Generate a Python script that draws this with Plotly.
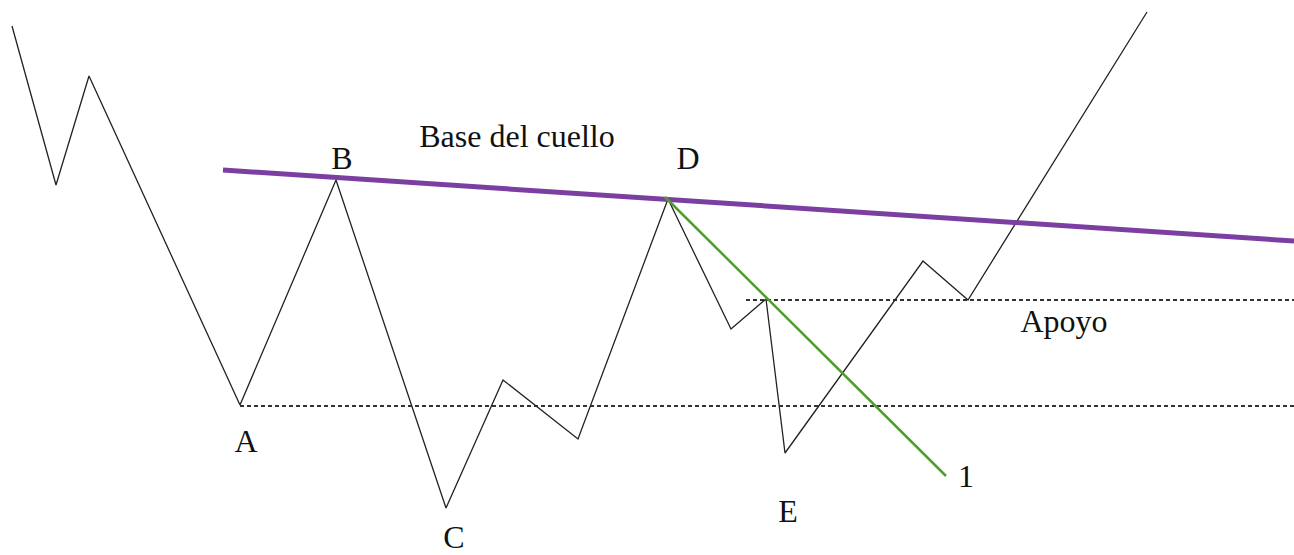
import plotly.graph_objects as go

# Price path (pixel-like units, y grows downward)
price_x = [12, 56, 89, 240, 336, 446, 503, 578, 668, 731, 766, 785, 923, 968, 1147]
price_y = [26, 185, 76, 405, 180, 508, 380, 439, 199, 329, 299, 453, 261, 300, 12]

# Neckline ("Base del cuello")
neck_x = [223, 1294]
neck_y = [170, 241]

# Trend line 1 from D
trend_x = [665, 946]
trend_y = [197, 476]

# Dotted support levels
low_x = [240, 1294]
low_y = [406, 406]
sup_x = [746, 1294]
sup_y = [300, 300]

# Labels
label_text = ["B", "D", "Base del cuello", "A", "C", "E", "1", "Apoyo"]
label_x = [342, 688, 517, 246, 454, 788, 966, 1064]
label_y = [161, 161, 139, 444, 540, 514, 479, 324]

fig = go.Figure()

fig.add_trace(go.Scatter(x=low_x, y=low_y, mode="lines",
                         line=dict(color="#333333", width=2, dash="4px,3px")))
fig.add_trace(go.Scatter(x=sup_x, y=sup_y, mode="lines",
                         line=dict(color="#333333", width=2, dash="4px,3px")))
fig.add_trace(go.Scatter(x=price_x, y=price_y, mode="lines",
                         line=dict(color="#222222", width=1.3)))
fig.add_trace(go.Scatter(x=neck_x, y=neck_y, mode="lines",
                         line=dict(color="#7B3FA2", width=5)))
fig.add_trace(go.Scatter(x=trend_x, y=trend_y, mode="lines",
                         line=dict(color="#4E9E2C", width=2.5)))
fig.add_trace(go.Scatter(x=label_x, y=label_y, mode="text", text=label_text,
                         textfont=dict(family="Liberation Serif", size=32, color="#111111")))

fig.update_layout(
    width=1294, height=555,
    margin=dict(t=0, l=0, r=0, b=0),
    paper_bgcolor="white", plot_bgcolor="white",
    showlegend=False,
    xaxis=dict(range=[0, 1294], visible=False, fixedrange=True),
    yaxis=dict(range=[555, 0], visible=False, fixedrange=True),
)

fig.write_html("out.html", config={"displayModeBar": False},
               post_script="document.body.style.margin='0';")
